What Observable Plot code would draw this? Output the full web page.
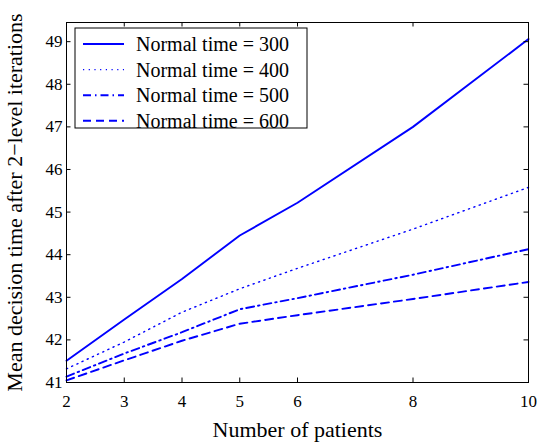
<!DOCTYPE html>
<html><head><meta charset="utf-8">
<script src="https://cdn.jsdelivr.net/npm/d3@7"></script>
<script src="https://cdn.jsdelivr.net/npm/@observablehq/plot@0.6"></script>
<style>
body{margin:0;background:#fff}
#chart{width:540px;height:442px}
</style>
</head><body><div id="chart"></div>
<script>
// ---- data ----
const patients = [2, 3, 4, 5, 6, 8, 10];
const seriesNames = ["Normal time = 300", "Normal time = 400", "Normal time = 500", "Normal time = 600"];
const time300 = [41.51, 42.48, 43.43, 44.45, 45.22, 47.00, 49.06];
const time400 = [41.32, 41.95, 42.65, 43.20, 43.68, 44.60, 45.58];
const time500 = [41.14, 41.68, 42.18, 42.72, 42.98, 43.53, 44.13];
const time600 = [41.05, 41.52, 41.98, 42.38, 42.58, 42.96, 43.36];
const xTicks = [2, 3, 4, 5, 6, 8, 10];
const yTicks = [41, 42, 43, 44, 45, 46, 47, 48, 49];
const xLabel = "Number of patients";
const yLabel = "Mean decision time after 2\u2212level iterations";

// ---- styles ----
const seriesValues = [time300, time400, time500, time600];
const dashStyles = [null, "1.2,4.5", "8,4,1.5,4", "8,5"];
const widths = [1.9, 1.4, 1.9, 1.9];
const blue = "#0000ff";
const font = "'Liberation Serif', 'Times New Roman', serif";

const W = 540, H = 442, mL = 66, mR = 12, mT = 22, mB = 60;
const plotW = W - mL - mR, plotH = H - mT - mB;
const tickLen = 4.5;

const rows = seriesNames.flatMap((name, i) =>
  patients.map((p, j) => ({series: name, x: p, y: seriesValues[i][j]})));

const lineMarks = seriesNames.map((name, i) =>
  Plot.line(rows.filter(d => d.series === name), {
    x: "x", y: "y", stroke: blue, strokeWidth: widths[i],
    strokeDasharray: dashStyles[i] || undefined
  }));

const chart = Plot.plot({
  width: W, height: H,
  marginLeft: mL, marginRight: mR, marginTop: mT, marginBottom: mB,
  style: {fontFamily: font, fontSize: "17px", color: "#000", background: "#fff"},
  x: {domain: [2, 10]},
  y: {domain: [41, 49.45]},
  marks: [
    ...lineMarks,
    Plot.frame({stroke: "#000", strokeWidth: 1}),
    Plot.tickX(xTicks, {x: d => d, insetTop: plotH - tickLen, stroke: "#000"}),
    Plot.tickX(xTicks, {x: d => d, insetBottom: plotH - tickLen, stroke: "#000"}),
    Plot.tickY(yTicks, {y: d => d, insetRight: plotW - tickLen, stroke: "#000"}),
    Plot.tickY(yTicks, {y: d => d, insetLeft: plotW - tickLen, stroke: "#000"}),
    Plot.axisX({ticks: xTicks, tickSize: 0, tickPadding: 12, label: null, fontSize: 17}),
    Plot.axisY({ticks: yTicks, tickSize: 0, tickPadding: 4, label: null, fontSize: 17}),
    Plot.text([xLabel], {text: d => d, frameAnchor: "bottom", dy: 54, lineAnchor: "bottom", textAnchor: "middle", fontSize: 22, fill: "#000"}),
    Plot.text([yLabel], {text: d => d, frameAnchor: "left", rotate: -90, dx: -60, lineAnchor: "top", textAnchor: "middle", fontSize: 22, fill: "#000"})
  ]
});

// ---- legend (inside plot, upper-left) ----
const svg = d3.select(chart);
const lg = svg.append("g").style("font-family", font).style("font-size", "20px").attr("text-anchor", "start");
const bx = 75, by = 28, bw = 232, bh = 100;
lg.append("rect").attr("x", bx).attr("y", by).attr("width", bw).attr("height", bh)
  .attr("fill", "#fff").attr("stroke", "#000").attr("stroke-width", 1);
seriesNames.forEach((name, i) => {
  const cy = by + 16 + i * 25.6;
  lg.append("line").attr("x1", bx + 8).attr("x2", bx + 49).attr("y1", cy).attr("y2", cy)
    .attr("stroke", blue).attr("stroke-width", widths[i])
    .attr("stroke-dasharray", dashStyles[i]);
  lg.append("text").attr("x", bx + 61).attr("y", cy).attr("dy", "0.35em")
    .attr("text-anchor", "start").style("font-family", font).style("font-size", "20px")
    .attr("fill", "#000").text(name);
});

document.getElementById("chart").appendChild(chart);
</script>
</body></html>
